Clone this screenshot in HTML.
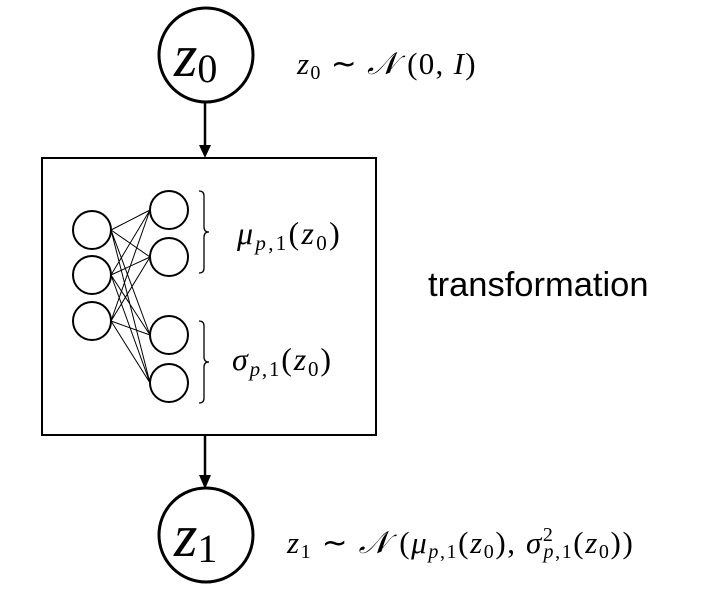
<!DOCTYPE html>
<html><head><style>html,body{margin:0;padding:0;background:#fff}</style></head><body>
<svg width="703" height="602" xmlns="http://www.w3.org/2000/svg" font-family="Liberation Serif, serif">
<rect width="703" height="602" fill="#fff"/>
<g fill="none" stroke="#000">
<circle cx="206" cy="55" r="47" stroke-width="3"/>
<circle cx="206" cy="535" r="47" stroke-width="3"/>
<rect x="42" y="158" width="334" height="277" stroke-width="2"/>
<line x1="205" y1="102" x2="205" y2="146" stroke-width="2.5"/>
<line x1="205" y1="435" x2="205" y2="476" stroke-width="2.5"/>
<g stroke-width="2">
<circle cx="92" cy="230" r="19"/><circle cx="92" cy="275" r="19"/><circle cx="92" cy="321" r="19"/>
<circle cx="169" cy="210" r="19"/><circle cx="169" cy="257" r="19"/><circle cx="169" cy="335" r="19"/><circle cx="169" cy="383" r="19"/>
</g>
<g stroke-width="1">
<path d="M111 230L150 210M111 230L150 257M111 230L150 335M111 230L150 383
M111 275L150 210M111 275L150 257M111 275L150 335M111 275L150 383
M111 321L150 210M111 321L150 257M111 321L150 335M111 321L150 383"/>
</g>
<g stroke-width="1.3">
<path d="M199 191 Q204 191 204 196 L204 227 Q204 232 209 232 Q204 232 204 237 L204 268 Q204 273 199 273"/>
<path d="M199 321 Q204 321 204 326 L204 357 Q204 362 209 362 Q204 362 204 367 L204 398 Q204 403 199 403"/>
</g>
</g>
<polygon points="199,145 211,145 205,158" fill="#000"/>
<polygon points="199,475 211,475 205,489" fill="#000"/>
<text x="174" y="76" font-size="60" font-style="italic">z<tspan font-style="normal" font-size="40" dy="6">0</tspan></text>
<text x="174" y="556" font-size="60" font-style="italic">z<tspan font-style="normal" font-size="40" dy="6">1</tspan></text>
<text x="297" y="74" font-size="31" letter-spacing="1.3"><tspan font-style="italic">z</tspan><tspan font-size="20" dy="5">0</tspan><tspan dy="-5"> ∼ </tspan><tspan font-style="italic">𝒩</tspan> (0, <tspan font-style="italic">I</tspan>)</text>
<text x="237" y="244" font-size="32" letter-spacing="2.3"><tspan font-style="italic">μ</tspan><tspan font-size="21" dy="6" font-style="italic">p</tspan><tspan font-size="21">,1</tspan><tspan dy="-6">(</tspan><tspan font-style="italic">z</tspan><tspan font-size="21" dy="6">0</tspan><tspan dy="-6">)</tspan></text>
<text x="232" y="370" font-size="32" letter-spacing="1.8"><tspan font-style="italic">σ</tspan><tspan font-size="21" dy="6" font-style="italic">p</tspan><tspan font-size="21">,1</tspan><tspan dy="-6">(</tspan><tspan font-style="italic">z</tspan><tspan font-size="21" dy="6">0</tspan><tspan dy="-6">)</tspan></text>
<text x="428" y="296" font-size="34.5" font-family="Liberation Sans, sans-serif">transformation</text>
<text x="287" y="553" font-size="31" letter-spacing="1.6"><tspan font-style="italic">z</tspan><tspan font-size="20" dy="5">1</tspan><tspan dy="-5"> ∼ </tspan><tspan font-style="italic">𝒩</tspan> (<tspan font-style="italic">μ</tspan><tspan font-size="20" dy="5" font-style="italic">p</tspan><tspan font-size="20">,1</tspan><tspan dy="-5">(</tspan><tspan font-style="italic">z</tspan><tspan font-size="20" dy="5">0</tspan><tspan dy="-5">), </tspan><tspan font-style="italic">σ</tspan><tspan font-size="20" dy="-12">2</tspan><tspan font-size="20" dx="-11" dy="17" font-style="italic">p</tspan><tspan font-size="20">,1</tspan><tspan dy="-5">(</tspan><tspan font-style="italic">z</tspan><tspan font-size="20" dy="5">0</tspan><tspan dy="-5">))</tspan></text>
</svg>
</body></html>
